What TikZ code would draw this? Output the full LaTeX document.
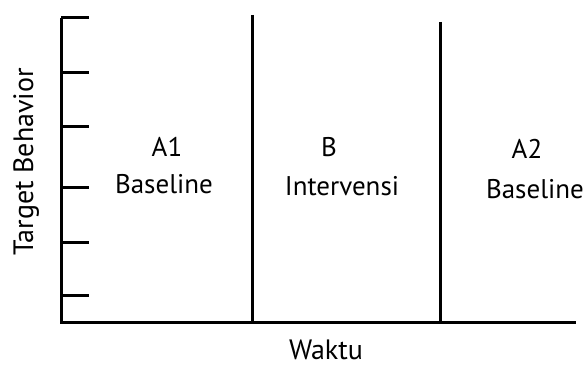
\documentclass[tikz,border=0pt]{standalone}
\usepackage{fontspec}
\setmainfont{PT Sans}
\begin{document}
\begin{tikzpicture}[x=1pt,y=-1pt,
  axisline/.style={line width=3pt,black},
  lbl/.style={font=\fontsize{27}{32}\selectfont,inner sep=0pt,anchor=base},
  axlbl/.style={font=\fontsize{28}{34}\selectfont,inner sep=0pt,anchor=base}]
\useasboundingbox (0,0) rectangle (587,369);
% axes
\coordinate (top) at (61,18);
\coordinate (origin) at (61,322);
\coordinate (xend) at (576,322);
\draw[axisline] (top) -- (origin) -- (xend);
% ticks on the vertical axis
\foreach \y in {18,73,127,187,242,295}
  \draw[axisline] (61,\y) -- (89,\y);
% phase dividers
\coordinate (d1t) at (252,15);
\coordinate (d1b) at (252,322);
\coordinate (d2t) at (440,22);
\coordinate (d2b) at (440,322);
\draw[axisline] (d1t) -- (d1b);
\draw[axisline] (d2t) -- (d2b);
% phase labels
\node[lbl] (a1) at (167,157) {A1};
\node[lbl] (a1b) at (164,193) {Baseline};
\node[lbl] (b) at (329,157) {B};
\node[lbl] (bi) at (342,195) {Intervensi};
\node[lbl] (a2) at (527,158) {A2};
\node[lbl] (a2b) at (535,198) {Baseline};
% axis titles
\node[axlbl] (xl) at (326,359) {Waktu};
\node[axlbl,rotate=90] (yl) at (33,162) {Target Behavior};
\end{tikzpicture}
\end{document}
